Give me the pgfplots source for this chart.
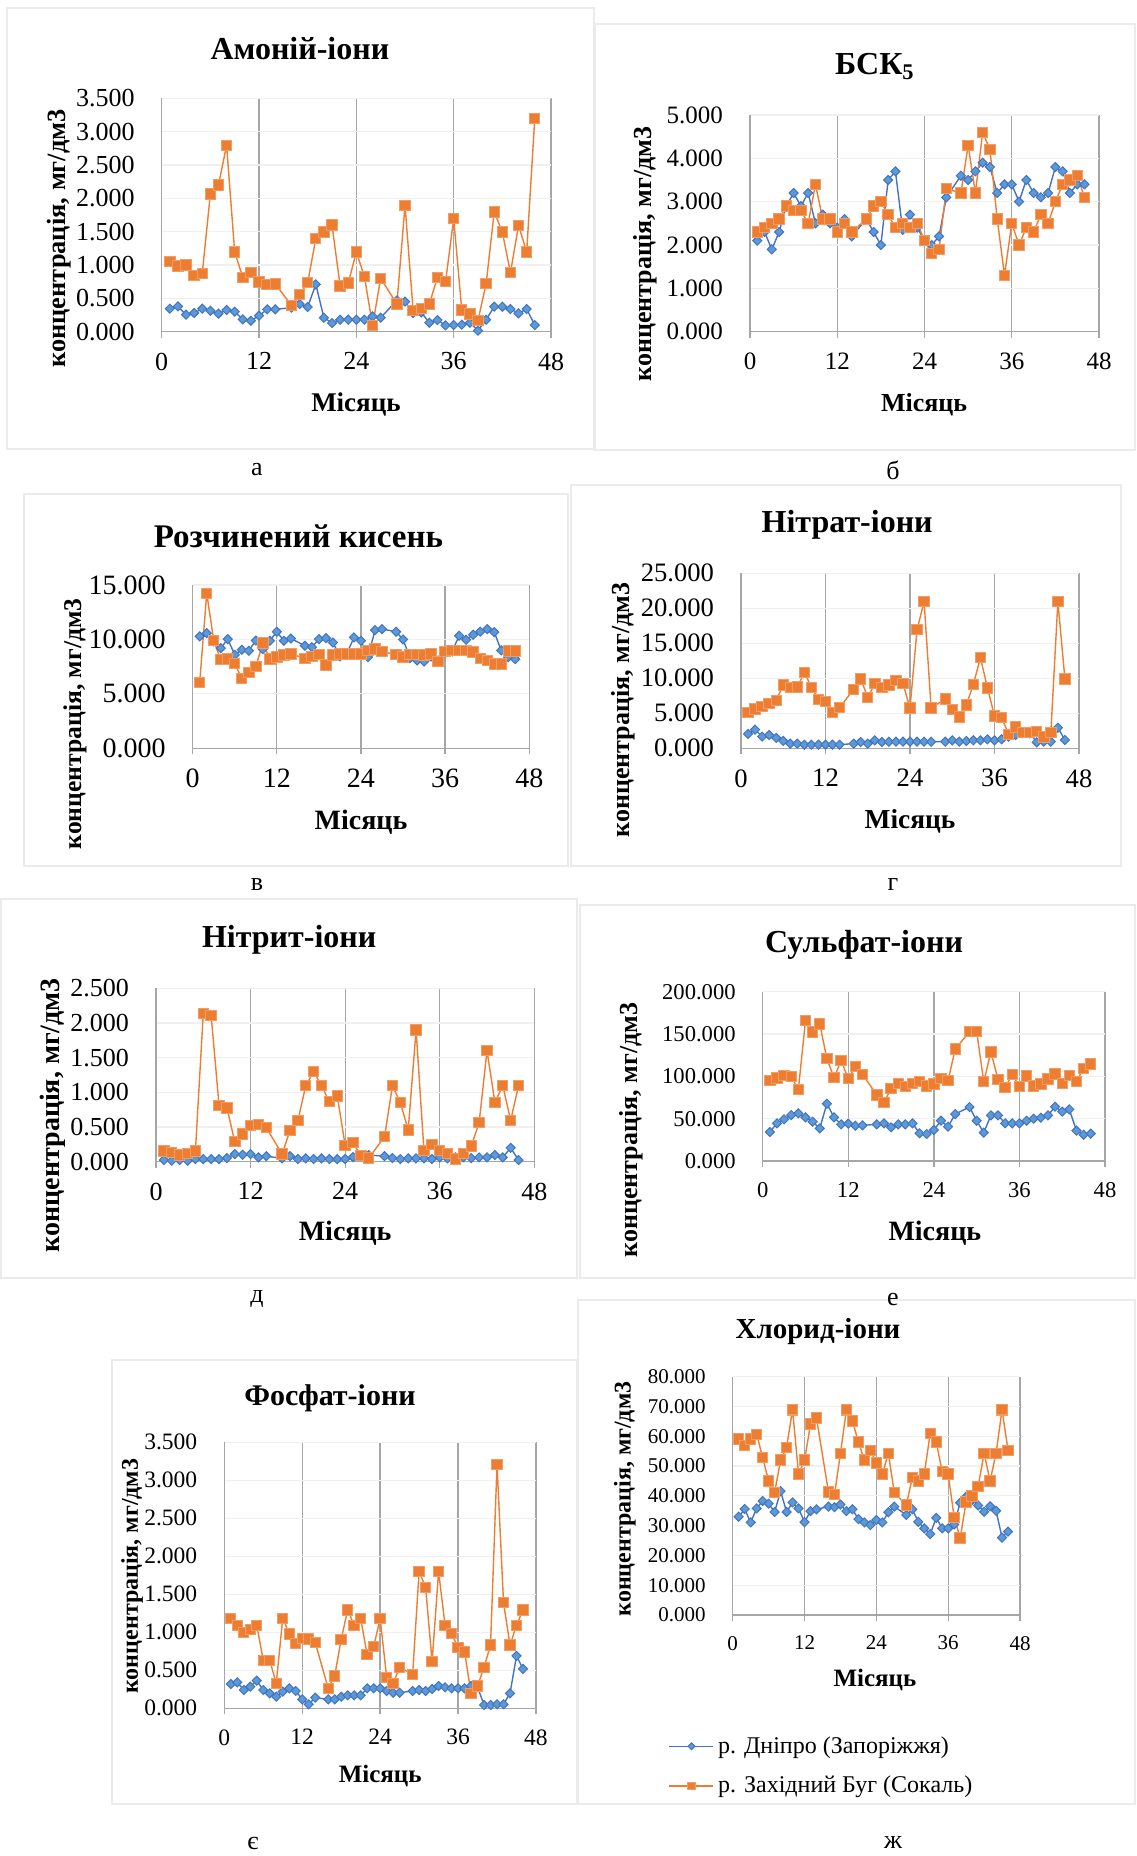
\documentclass[border=0pt]{standalone}
\usepackage{fontspec}
\setmainfont{Liberation Serif}
\usepackage{pgfplots}
\pgfplotsset{compat=1.18}
\definecolor{blueL}{HTML}{4472C4}
\definecolor{blueM}{HTML}{5B9BD5}
\definecolor{orangeC}{HTML}{ED7D31}
\definecolor{gridC}{HTML}{A6A6A6}
\definecolor{faintC}{HTML}{F0F0F0}
\definecolor{frameC}{HTML}{EBEBEB}
\newcommand\F[1]{\fontsize{#1}{#1}\selectfont}

\pgfplotsset{
  panel/.style={
    scale only axis, clip=false, anchor=south west,
    xmin=0, xmax=48, ymin=0, xtick={0,12,24,36,48},
    axis x line*=bottom, axis y line*=left,
    axis line style={gridC, line width=0.65pt},
    xmajorgrids, ymajorgrids,
    x grid style={gridC, line width=0.65pt},
    y grid style={faintC, line width=0.6pt},
    tick align=outside, major tick length=3pt,
    xtick style={gridC, line width=0.65pt},
    ytick style={draw=none},
    /pgf/number format/assume math mode=true,
    yticklabel style={/pgf/number format/fixed, /pgf/number format/fixed zerofill,
      /pgf/number format/precision=3, /pgf/number format/1000 sep={}, xshift=-7pt},
    xticklabel style={yshift=-4pt},
    title style={anchor=center, yshift=-6.8pt},
    xlabel style={anchor=center, yshift=-1.5pt},
    ylabel style={anchor=center},
    xlabel={Місяць}, ylabel={концентрація, мг/дм3},
  },
  blu/.style={color=blueL, line width=0.7pt, mark=square*, mark size=1.6pt,
    mark options={rotate=45, fill=blueM, draw=blueL, line width=0.5pt}},
  org/.style={color=orangeC, line width=0.7pt, mark=square*, mark size=2.6pt,
    mark options={fill=orangeC, draw=orangeC!75!white, line width=0.5pt}},
}

\begin{document}
\begin{tikzpicture}
\path[use as bounding box] (0,0) rectangle (568pt,-928pt);
% panel frames
\draw[frameC, line width=0.6pt] (3.5pt,-4pt) rectangle (297pt,-224.5pt);
\draw[frameC, line width=0.6pt] (297.5pt,-12pt) rectangle (567.5pt,-225pt);
\draw[frameC, line width=0.6pt] (12pt,-247pt) rectangle (284pt,-433pt);
\draw[frameC, line width=0.6pt] (285.5pt,-242.5pt) rectangle (560.5pt,-433pt);
\draw[frameC, line width=0.6pt] (0.5pt,-449.5pt) rectangle (288.5pt,-639pt);
\draw[frameC, line width=0.6pt] (290pt,-452.5pt) rectangle (567.5pt,-639pt);
\draw[frameC, line width=0.6pt] (56pt,-680pt) rectangle (288.5pt,-902pt);
\draw[frameC, line width=0.6pt] (289pt,-650pt) rectangle (567.5pt,-902pt);

% а: ammonium
\begin{axis}[panel, at={(80.85pt,-165.85pt)}, width=194.65pt, height=116.7pt,
  ymax=3.5, ytick distance=0.5,
  tick label style={font=\F{13}},
  title={Амоній-іони}, title style={at={(axis description cs:0.355,1.22)}, font=\bfseries\F{16}},
  xlabel style={at={(axis description cs:0.499,-0.301)}, font=\bfseries\F{13.5}},
  ylabel style={at={(axis description cs:-0.264,0.40)}, font=\bfseries\F{13.2}}]
\addplot[blu] coordinates {(1,0.345)(2,0.38)(3,0.255)(4,0.28)(5,0.345)(6,0.315)(7,0.27)(8,0.325)(9,0.3)(10,0.185)(11,0.165)(12,0.24)(13,0.335)(14,0.335)(16,0.36)(17,0.415)(18,0.37)(19,0.71)(20,0.21)(21,0.13)(22,0.18)(23,0.18)(24,0.18)(25,0.18)(26,0.23)(27,0.21)(29,0.47)(30,0.45)(31,0.28)(32,0.29)(33,0.135)(34,0.175)(35,0.095)(36,0.1)(37,0.105)(38,0.135)(39,0.015)(40,0.18)(41,0.375)(42,0.375)(43,0.34)(44,0.275)(45,0.34)(46,0.1)};
\addplot[org] coordinates {(1,1.05)(2,0.985)(3,1.0)(4,0.84)(5,0.875)(6,2.065)(7,2.2)(8,2.795)(9,1.195)(10,0.815)(11,0.885)(12,0.745)(13,0.71)(14,0.715)(16,0.395)(17,0.56)(18,0.735)(19,1.395)(20,1.495)(21,1.6)(22,0.685)(23,0.73)(24,1.195)(25,0.825)(26,0.09)(27,0.8)(29,0.415)(30,1.895)(31,0.32)(32,0.35)(33,0.415)(34,0.815)(35,0.75)(36,1.695)(37,0.325)(38,0.265)(39,0.17)(40,0.72)(41,1.795)(42,1.495)(43,0.885)(44,1.595)(45,1.195)(46,3.2)};
\end{axis}

% б: BOD5
\begin{axis}[panel, at={(375pt,-165.85pt)}, width=174.5pt, height=108.35pt,
  ymax=5, ytick distance=1,
  tick label style={font=\F{12.5}},
  title={БСК\textsubscript{5}}, title style={at={(axis description cs:0.358,1.231)}, font=\bfseries\F{16}},
  xlabel style={at={(axis description cs:0.499,-0.324)}, font=\bfseries\F{13}},
  ylabel style={at={(axis description cs:-0.301,0.359)}, font=\bfseries\F{13}}]
\addplot[blu] coordinates {(1,2.1)(2,2.3)(3,1.9)(4,2.3)(5,2.9)(6,3.2)(7,2.9)(8,3.2)(9,2.5)(10,2.7)(11,2.5)(12,2.4)(13,2.6)(14,2.2)(16,2.6)(17,2.3)(18,2.0)(19,3.5)(20,3.7)(21,2.35)(22,2.7)(23,2.4)(24,2.1)(25,2.0)(26,2.2)(27,3.1)(29,3.6)(30,3.5)(31,3.7)(32,3.9)(33,3.8)(34,3.2)(35,3.4)(36,3.4)(37,3.0)(38,3.5)(39,3.2)(40,3.1)(41,3.2)(42,3.8)(43,3.7)(44,3.2)(45,3.4)(46,3.4)};
\addplot[org] coordinates {(1,2.3)(2,2.4)(3,2.5)(4,2.6)(5,2.9)(6,2.8)(7,2.8)(8,2.5)(9,3.4)(10,2.6)(11,2.6)(12,2.3)(13,2.5)(14,2.3)(16,2.6)(17,2.9)(18,3.0)(19,2.7)(20,2.4)(21,2.5)(22,2.4)(23,2.5)(24,2.1)(25,1.8)(26,1.9)(27,3.3)(29,3.2)(30,4.3)(31,3.2)(32,4.6)(33,4.2)(34,2.6)(35,1.3)(36,2.5)(37,2.0)(38,2.4)(39,2.3)(40,2.7)(41,2.5)(42,3.0)(43,3.4)(44,3.5)(45,3.6)(46,3.1)};
\end{axis}

% в: dissolved oxygen
\begin{axis}[panel, at={(96.35pt,-374.15pt)}, width=168.3pt, height=81.65pt,
  ymax=15, ytick distance=5,
  tick label style={font=\F{14}},
  title={Розчинений кисень}, title style={at={(axis description cs:0.314,1.306)}, font=\bfseries\F{16.5}},
  xlabel style={at={(axis description cs:0.5,-0.433)}, font=\bfseries\F{14}},
  ylabel style={at={(axis description cs:-0.35,0.149)}, font=\bfseries\F{12.8}}]
\addplot[blu] coordinates {(1,10.28)(2,10.58)(3,9.82)(4,9.2)(5,10.03)(6,8.59)(7,9.05)(8,8.96)(9,9.9)(10,9.11)(11,9.88)(12,10.71)(13,9.88)(14,10.09)(16,9.42)(17,9.29)(18,10.03)(19,10.12)(20,9.72)(21,8.44)(22,8.74)(23,10.18)(24,9.88)(25,8.37)(26,10.86)(27,10.95)(29,10.71)(30,10.0)(31,8.28)(32,8.07)(33,7.98)(34,8.44)(35,8.07)(36,8.8)(37,8.9)(38,10.34)(39,9.97)(40,10.43)(41,10.71)(42,10.95)(43,10.67)(44,8.99)(45,8.37)(46,8.19)};
\addplot[org] coordinates {(1,6.07)(2,14.23)(3,9.9)(4,8.13)(5,8.22)(6,7.79)(7,6.41)(8,6.96)(9,7.52)(10,9.66)(11,8.19)(12,8.37)(13,8.56)(14,8.68)(16,8.25)(17,8.44)(18,8.62)(19,7.67)(20,8.56)(21,8.68)(22,8.68)(23,8.68)(24,8.68)(25,8.99)(26,9.11)(27,8.9)(29,8.59)(30,8.37)(31,8.62)(32,8.62)(33,8.56)(34,8.68)(35,8.0)(36,8.9)(37,8.99)(38,8.99)(39,8.99)(40,8.83)(41,8.25)(42,8.07)(43,7.76)(44,7.76)(45,8.93)(46,8.93)};
\end{axis}

% г: nitrate
\begin{axis}[panel, at={(370.5pt,-374.15pt)}, width=169pt, height=87.5pt,
  ymax=25, ytick distance=5,
  tick label style={font=\F{13.3}},
  title={Нітрат-іони}, title style={at={(axis description cs:0.314,1.287)}, font=\bfseries\F{16}},
  xlabel style={at={(axis description cs:0.5,-0.403)}, font=\bfseries\F{13.7}},
  ylabel style={at={(axis description cs:-0.349,0.219)}, font=\bfseries\F{13}}]
\addplot[blu] coordinates {(1,2.05)(2,2.67)(3,1.67)(4,1.9)(5,1.48)(6,1.05)(7,0.67)(8,0.67)(9,0.52)(10,0.52)(11,0.52)(12,0.52)(13,0.52)(14,0.52)(16,0.67)(17,0.9)(18,0.67)(19,1.14)(20,0.9)(21,0.95)(22,0.95)(23,0.95)(24,0.95)(25,0.95)(26,0.95)(27,0.95)(29,0.95)(30,1.14)(31,0.95)(32,1.05)(33,1.14)(34,1.14)(35,1.29)(36,1.14)(37,1.29)(38,1.67)(39,1.9)(40,2.14)(41,2.14)(42,0.86)(43,0.95)(44,0.95)(45,2.95)(46,1.19)};
\addplot[org] coordinates {(1,5.14)(2,5.62)(3,5.95)(4,6.38)(5,6.86)(6,9.05)(7,8.67)(8,8.76)(9,10.86)(10,8.71)(11,6.95)(12,6.67)(13,5.1)(14,5.81)(16,8.43)(17,9.9)(18,7.29)(19,9.24)(20,8.67)(21,9.05)(22,9.71)(23,9.24)(24,5.76)(25,16.95)(26,20.95)(27,5.76)(29,7.05)(30,5.52)(31,4.48)(32,6.19)(33,9.14)(34,12.95)(35,8.62)(36,4.62)(37,4.43)(38,2.0)(39,3.05)(40,2.24)(41,2.24)(42,2.38)(43,1.62)(44,2.24)(45,20.95)(46,9.9)};
\end{axis}

% д: nitrite
\begin{axis}[panel, at={(78pt,-580.85pt)}, width=189.15pt, height=86.7pt,
  ymax=2.5, ytick distance=0.5,
  tick label style={font=\F{13}},
  title={Нітрит-іони}, title style={at={(axis description cs:0.352,1.29)}, font=\bfseries\F{16}},
  xlabel style={at={(axis description cs:0.5,-0.394)}, font=\bfseries\F{14}},
  ylabel style={at={(axis description cs:-0.272,0.269)}, font=\bfseries\F{14}}]
\addplot[blu] coordinates {(1,0.024)(2,0.014)(3,0.024)(4,0.014)(5,0.038)(6,0.038)(7,0.038)(8,0.038)(9,0.053)(10,0.11)(11,0.1)(12,0.11)(13,0.0625)(14,0.08)(16,0.048)(17,0.08)(18,0.038)(19,0.048)(20,0.038)(21,0.048)(22,0.038)(23,0.038)(24,0.038)(25,0.067)(26,0.096)(27,0.096)(29,0.08)(30,0.053)(31,0.038)(32,0.048)(33,0.048)(34,0.048)(35,0.038)(36,0.0625)(37,0.048)(38,0.0625)(39,0.0625)(40,0.053)(41,0.0625)(42,0.0625)(43,0.096)(44,0.0625)(45,0.2)(46,0.024)};
\addplot[org] coordinates {(1,0.154)(2,0.13)(3,0.096)(4,0.12)(5,0.154)(6,2.14)(7,2.106)(8,0.81)(9,0.774)(10,0.288)(11,0.4)(12,0.524)(13,0.534)(14,0.49)(16,0.11)(17,0.45)(18,0.59)(19,1.096)(20,1.3)(21,1.096)(22,0.865)(23,0.95)(24,0.236)(25,0.274)(26,0.087)(27,0.053)(29,0.36)(30,1.096)(31,0.85)(32,0.46)(33,1.9)(34,0.159)(35,0.25)(36,0.163)(37,0.115)(38,0.038)(39,0.115)(40,0.226)(41,0.5625)(42,1.6)(43,0.856)(44,1.096)(45,0.596)(46,1.096)};
\end{axis}

% е: sulphate
\begin{axis}[panel, at={(381.35pt,-580.5pt)}, width=171.15pt, height=84.65pt,
  ymax=200, ytick distance=50,
  tick label style={font=\F{11.3}},
  title={Сульфат-іони}, title style={at={(axis description cs:0.296,1.288)}, font=\bfseries\F{16}},
  xlabel style={at={(axis description cs:0.503,-0.408)}, font=\bfseries\F{14}},
  ylabel style={at={(axis description cs:-0.385,0.183)}, font=\bfseries\F{13}}]
\addplot[blu] coordinates {(1,34.3)(2,44.5)(3,49.2)(4,54.3)(5,56.3)(6,51.6)(7,46.5)(8,38.6)(9,67.7)(10,51.6)(11,43.3)(12,44.1)(13,41.7)(14,42.1)(16,43.3)(17,44.5)(18,39.8)(19,43.3)(20,43.3)(21,44.5)(22,32.7)(23,31.9)(24,36.6)(25,47.6)(26,40.6)(27,55.5)(29,63.8)(30,47.6)(31,33.5)(32,53.9)(33,53.9)(34,44.5)(35,44.5)(36,44.5)(37,47.6)(38,50.0)(39,51.2)(40,53.9)(41,64.2)(42,58.3)(43,61.0)(44,35.8)(45,31.1)(46,32.3)};
\addplot[org] coordinates {(1,94.9)(2,98.0)(3,100.8)(4,99.6)(5,84.6)(6,165.7)(7,152.4)(8,161.8)(9,120.9)(10,98.4)(11,118.5)(12,97.2)(13,111.4)(14,102.4)(16,78.0)(17,68.9)(18,85.8)(19,91.7)(20,87.8)(21,91.7)(22,93.7)(23,88.6)(24,90.9)(25,97.2)(26,95.3)(27,132.3)(29,152.8)(30,152.8)(31,93.7)(32,128.7)(33,96.5)(34,87.0)(35,102.4)(36,87.8)(37,100.4)(38,88.6)(39,90.9)(40,96.9)(41,102.8)(42,91.7)(43,100.8)(44,94.1)(45,109.4)(46,114.6)};
\end{axis}

% є: phosphate
\begin{axis}[panel, at={(112.15pt,-854.15pt)}, width=155.85pt, height=133pt,
  ymax=3.5, ytick distance=0.5,
  tick label style={font=\F{11.75}},
  title={Фосфат-іони}, title style={at={(axis description cs:0.339,1.17)}, font=\bfseries\F{15}},
  xlabel style={at={(axis description cs:0.5,-0.243)}, font=\bfseries\F{12.5}},
  ylabel style={at={(axis description cs:-0.296,0.497)}, font=\bfseries\F{12}}]
\addplot[blu] coordinates {(1,0.32)(2,0.342)(3,0.241)(4,0.285)(5,0.364)(6,0.241)(7,0.197)(8,0.154)(9,0.219)(10,0.263)(11,0.228)(12,0.118)(13,0.053)(14,0.14)(16,0.118)(17,0.118)(18,0.154)(19,0.171)(20,0.171)(21,0.171)(22,0.263)(23,0.263)(24,0.263)(25,0.228)(26,0.206)(27,0.206)(29,0.228)(30,0.241)(31,0.228)(32,0.254)(33,0.294)(34,0.276)(35,0.263)(36,0.263)(37,0.263)(38,0.294)(39,0.28)(40,0.044)(41,0.044)(42,0.053)(43,0.053)(44,0.197)(45,0.689)(46,0.518)};
\addplot[org] coordinates {(1,1.184)(2,1.092)(3,0.996)(4,1.04)(5,1.092)(6,0.632)(7,0.632)(8,0.329)(9,1.184)(10,0.978)(11,0.855)(12,0.921)(13,0.912)(14,0.868)(16,0.263)(17,0.425)(18,0.908)(19,1.294)(20,1.092)(21,1.184)(22,0.706)(23,0.811)(24,1.184)(25,0.408)(26,0.329)(27,0.539)(29,0.447)(30,1.798)(31,1.592)(32,0.614)(33,1.798)(34,1.092)(35,0.987)(36,0.798)(37,0.741)(38,0.197)(39,0.294)(40,0.539)(41,0.833)(42,3.21)(43,1.39)(44,0.833)(45,1.092)(46,1.294)};
\end{axis}

% ж: chloride
\begin{axis}[panel, at={(366.35pt,-807.5pt)}, width=143.65pt, height=119.15pt,
  ymax=80, ytick distance=10,
  tick label style={font=\F{10.5}},
  title={Хлорид-іони}, title style={at={(axis description cs:0.297,1.196)}, font=\bfseries\F{14.5}},
  xlabel style={at={(axis description cs:0.495,-0.26)}, font=\bfseries\F{12.5}},
  ylabel style={at={(axis description cs:-0.375,0.487)}, font=\bfseries\F{12}},
  legend style={at={(axis description cs:-0.245,-0.634)}, anchor=west, draw=none, fill=none,
    font=\F{12}, row sep=6pt},
  legend cell align=left,
  legend image code/.code={\draw[mark repeat=2, mark phase=2, #1] plot coordinates {(0pt,0pt) (11pt,0pt) (22pt,0pt)};}]
\addplot[blu, forget plot] coordinates {(1,33.0)(2,35.6)(3,31.1)(4,35.8)(5,38.3)(6,37.4)(7,34.6)(8,41.6)(9,34.6)(10,37.8)(11,35.8)(12,31.2)(13,34.9)(14,35.5)(16,36.4)(17,36.2)(18,37.1)(19,34.9)(20,35.5)(21,32.2)(22,31.1)(23,30.2)(24,31.9)(25,31.1)(26,34.5)(27,36.4)(29,33.6)(30,35.5)(31,31.3)(32,29.1)(33,27.2)(34,32.6)(35,29.1)(36,29.1)(37,30.4)(38,37.7)(39,39.7)(40,38.6)(41,36.8)(42,34.7)(43,36.5)(44,35.0)(45,26.0)(46,28.0)};
\addplot[org, forget plot] coordinates {(1,59.1)(2,57.0)(3,59.1)(4,60.7)(5,52.9)(6,45.0)(7,41.1)(8,52.0)(9,56.3)(10,68.9)(11,47.3)(12,52.0)(13,64.1)(14,66.1)(16,41.3)(17,40.4)(18,54.3)(19,68.9)(20,65.1)(21,58.1)(22,52.0)(23,55.3)(24,51.0)(25,47.3)(26,54.3)(27,41.1)(29,36.9)(30,46.1)(31,45.0)(32,47.3)(33,61.0)(34,58.1)(35,48.1)(36,47.3)(37,32.8)(38,25.8)(39,38.0)(40,40.0)(41,43.1)(42,54.3)(43,45.0)(44,54.3)(45,68.9)(46,55.3)};
\addlegendimage{blu, mark size=1.2pt}
\addlegendentry{р. Дніпро (Запоріжжя)}
\addlegendimage{org, mark size=1.9pt}
\addlegendentry{р. Західний Буг (Сокаль)}
\end{axis}

% panel letters
\node[font=\F{13}] at (128.5pt,-235pt) {а};
\node[font=\F{13}] at (446.5pt,-235pt) {б};
\node[font=\F{13}] at (128.5pt,-442.5pt) {в};
\node[font=\F{13}] at (446.5pt,-442.5pt) {г};
\node[font=\F{13}] at (128.5pt,-649.5pt) {д};
\node[font=\F{13}] at (446.5pt,-649.5pt) {е};
\node[font=\F{13}] at (126.5pt,-921.5pt) {є};
\node[font=\F{13}] at (446.5pt,-921.5pt) {ж};
\end{tikzpicture}
\end{document}
